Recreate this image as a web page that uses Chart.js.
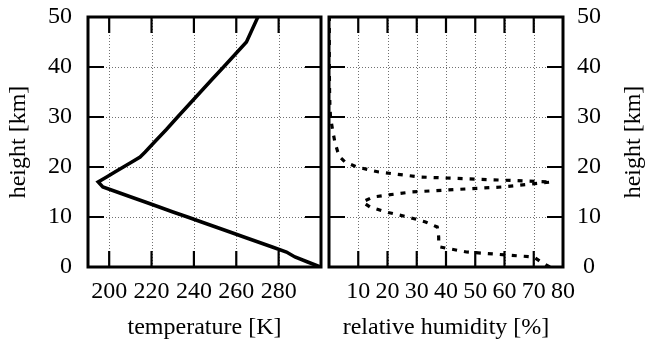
<!DOCTYPE html>
<html><head><meta charset="utf-8">
<script src="https://cdn.jsdelivr.net/npm/chart.js@4.4.0/dist/chart.umd.min.js"></script>
<style>
html,body{margin:0;padding:0;background:#fff;}
#wrap{position:relative;width:645px;height:346px;overflow:hidden;background:#fff;}
canvas{position:absolute;top:0;}
#c1{left:0;}
#c2{left:325px;}
</style></head><body>
<div id="wrap"><canvas id="c1" width="325" height="346"></canvas><canvas id="c2" width="320" height="346"></canvas></div>
<script>
// ---- data ----
const tempHeights = [0,1,2,3,4,5,6,7,8,9,10,11,12,13,14,15,16,17,18,19,20,21,22,23,24,25,27.5,30,32.5,35,37.5,40,42.5,45,47.5,50];
const temperature = [299.7,293.7,287.7,283.7,277.0,270.3,263.6,257.0,250.3,243.6,237.0,230.1,223.6,217.0,210.3,203.7,197.0,194.8,198.8,202.7,206.7,210.7,214.6,217.0,219.2,221.4,227.0,232.3,237.7,243.1,248.5,254.0,259.4,264.8,267.5,270.2];
const rhHeights = [0,1,2,3,4,5,6,7,8,9,10,11,12,13,14,15,16,17,18,19,20,21,22,23,24,25,27.5,30,32.5,35,40,45,50];
const humidity  = [75.5,72.5,70,47,38,37.5,37.5,37.3,37,33,27,19.5,14,11.5,15,28,59,76,31,17,9.5,5.5,3.7,3,2.5,2,1.2,0.5,0.3,0.2,0.1,0.1,0.1];
const tempTicks = [200,220,240,260,280];
const rhTicks = [10,20,30,40,50,60,70,80];
const heightTicks = [0,10,20,30,40,50];
const tempRange = [190,300];
const rhRange = [0,80];
const heightRange = [0,50];

Chart.defaults.color = '#000';
Chart.defaults.font.family = '"Liberation Serif", "Times New Roman", serif';
Chart.defaults.font.size = 24;

const TICK = 16;
const framePlugin = {
  id: 'frame',
  beforeDatasetsDraw(chart) {
    const {ctx, chartArea: a, scales: {x, y}} = chart;
    ctx.save();
    ctx.strokeStyle = '#707070';
    ctx.lineWidth = 1;
    ctx.setLineDash([1, 2]);
    x.ticks.forEach(t => {
      const px = Math.round(x.getPixelForValue(t.value)) + 0.5;
      if (px <= a.left + 3 || px >= a.right - 3) return;
      ctx.beginPath(); ctx.moveTo(px, a.top); ctx.lineTo(px, a.bottom); ctx.stroke();
    });
    y.ticks.forEach(t => {
      const py = Math.round(y.getPixelForValue(t.value)) + 0.5;
      if (py <= a.top + 3 || py >= a.bottom - 3) return;
      ctx.beginPath(); ctx.moveTo(a.left, py); ctx.lineTo(a.right, py); ctx.stroke();
    });
    ctx.restore();
  },
  afterDatasetsDraw(chart) {
    const {ctx, chartArea: a, scales: {x, y}} = chart;
    ctx.save();
    ctx.strokeStyle = '#000';
    ctx.lineWidth = 2.2;
    x.ticks.forEach(t => {
      const px = x.getPixelForValue(t.value);
      if (px <= a.left + 3 || px >= a.right - 3) return;
      ctx.beginPath();
      ctx.moveTo(px, a.bottom); ctx.lineTo(px, a.bottom - TICK);
      ctx.moveTo(px, a.top); ctx.lineTo(px, a.top + TICK);
      ctx.stroke();
    });
    y.ticks.forEach(t => {
      const py = y.getPixelForValue(t.value);
      if (py <= a.top + 3 || py >= a.bottom - 3) return;
      ctx.beginPath();
      ctx.moveTo(a.left, py); ctx.lineTo(a.left + TICK, py);
      ctx.moveTo(a.right, py); ctx.lineTo(a.right - TICK, py);
      ctx.stroke();
    });
    ctx.lineWidth = 3;
    ctx.strokeRect(a.left, a.top, a.right - a.left, a.bottom - a.top);
    const extra = chart.options.plugins.frame;
    if (extra && extra.rightTitle) {
      ctx.fillStyle = '#000';
      ctx.font = '24px "Liberation Serif", serif';
      ctx.textAlign = 'center';
      ctx.textBaseline = 'middle';
      ctx.translate(extra.rightTitleX, (a.top + a.bottom) / 2);
      ctx.rotate(-Math.PI / 2);
      ctx.fillText(extra.rightTitle, 0, 0);
    }
    ctx.restore();
  }
};

function pts(xs, ys) { return xs.map((v, i) => ({x: v, y: ys[i]})); }
function noPadX(s, h) { s.height = h; s.paddingLeft = 0; s.paddingRight = 0; }
function noPadY(s, w) { s.width = w; s.paddingTop = 0; s.paddingBottom = 0; }

const common = {
  responsive: false,
  animation: false,
  devicePixelRatio: 1,
  elements: {point: {radius: 0}}
};

new Chart(document.getElementById('c1'), {
  type: 'scatter',
  data: {datasets: [{
    data: pts(temperature, tempHeights),
    showLine: true, borderColor: '#000', borderWidth: 3.5, pointRadius: 0,
    borderJoinStyle: 'miter'
  }]},
  options: Object.assign({}, common, {
    layout: {padding: {top: 17, right: 4, left: 0, bottom: 0}},
    plugins: {legend: {display: false}, tooltip: {enabled: false}, frame: {}},
    scales: {
      x: {
        type: 'linear', position: 'bottom', min: tempRange[0], max: tempRange[1],
        afterBuildTicks: s => { s.ticks = tempTicks.map(v => ({value: v})); },
        afterFit: s => noPadX(s, 79),
        grid: {display: false, drawTicks: false}, border: {display: false},
        ticks: {padding: 10, maxRotation: 0, autoSkip: false},
        title: {display: true, text: 'temperature [K]', padding: {top: 0, bottom: 4}}
      },
      y: {
        type: 'linear', position: 'left', min: heightRange[0], max: heightRange[1],
        afterBuildTicks: s => { s.ticks = heightTicks.map(v => ({value: v})); },
        afterFit: s => noPadY(s, 88),
        grid: {display: false, drawTicks: false}, border: {display: false},
        ticks: {padding: 16, autoSkip: false},
        title: {display: true, text: 'height [km]', padding: {top: 4, bottom: 0}}
      }
    }
  }),
  plugins: [framePlugin]
});

new Chart(document.getElementById('c2'), {
  type: 'scatter',
  data: {datasets: [{
    data: pts(humidity, rhHeights),
    showLine: true, borderColor: '#000', borderWidth: 3.2, pointRadius: 0,
    borderDash: [5, 7], borderCapStyle: 'butt', borderJoinStyle: 'miter'
  }]},
  options: Object.assign({}, common, {
    layout: {padding: {top: 17, right: 0, left: 4, bottom: 0}},
    plugins: {legend: {display: false}, tooltip: {enabled: false},
      frame: {rightTitle: 'height [km]', rightTitleX: 309}},
    scales: {
      x: {
        type: 'linear', position: 'bottom', min: rhRange[0], max: rhRange[1],
        afterBuildTicks: s => { s.ticks = rhTicks.map(v => ({value: v})); },
        afterFit: s => noPadX(s, 79),
        grid: {display: false, drawTicks: false}, border: {display: false},
        ticks: {padding: 10, maxRotation: 0, autoSkip: false},
        title: {display: true, text: 'relative humidity [%]', padding: {top: 0, bottom: 4}}
      },
      y: {
        type: 'linear', position: 'right', min: heightRange[0], max: heightRange[1],
        afterBuildTicks: s => { s.ticks = heightTicks.map(v => ({value: v})); },
        afterFit: s => noPadY(s, 82),
        grid: {display: false, drawTicks: false}, border: {display: false},
        ticks: {padding: 14, autoSkip: false, crossAlign: 'center'},
        title: {display: false}
      }
    }
  }),
  plugins: [framePlugin]
});
</script>
</body></html>
